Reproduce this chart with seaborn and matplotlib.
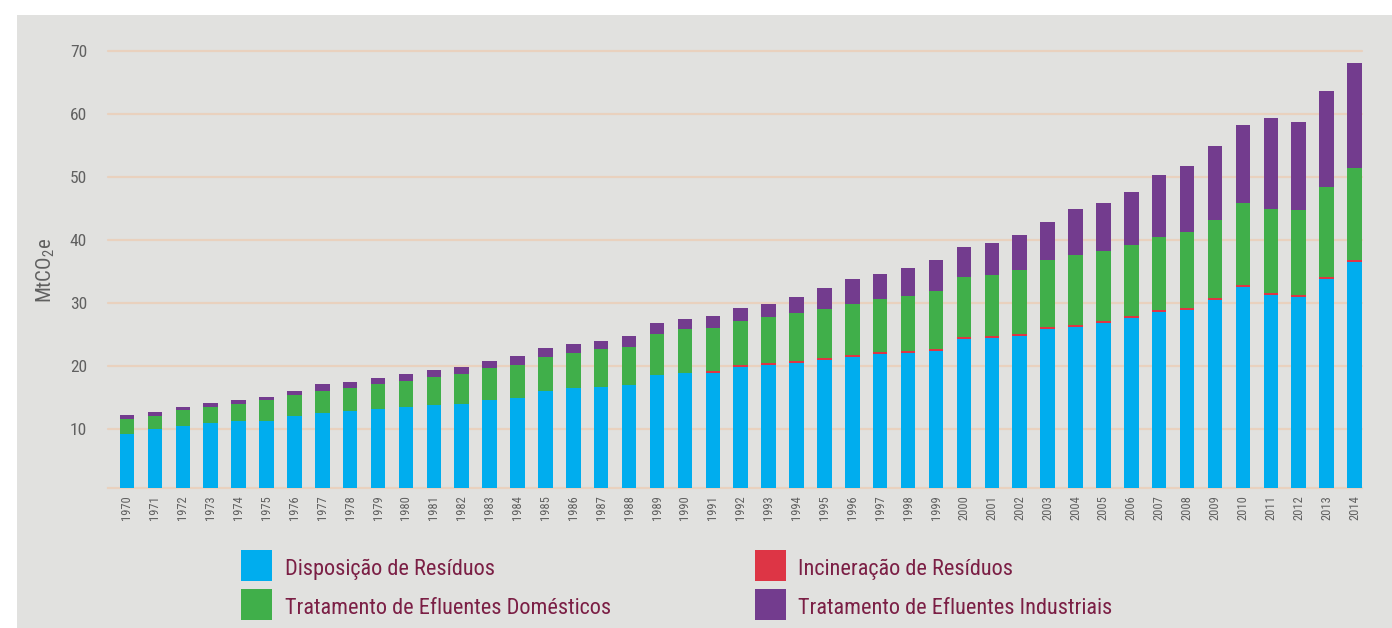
import numpy as np
import pandas as pd
import matplotlib
matplotlib.use("Agg")
import matplotlib.pyplot as plt
from matplotlib import font_manager
from matplotlib.patches import Rectangle
import seaborn as sns

# dados (MtCO2e)
anos = [str(a) for a in range(1970, 2015)]
disposicao = [9.25, 10.0, 10.5, 10.95, 11.25, 11.25, 12.1, 12.5, 12.85, 13.2,
              13.5, 13.8, 13.95, 14.6, 14.95, 16.0, 16.55, 16.65, 16.95, 18.55,
              18.9, 18.9, 19.8, 20.15, 20.45, 20.95, 21.4, 21.9, 22.05, 22.35,
              24.3, 24.45, 24.75, 25.85, 26.2, 26.8, 27.6, 28.55, 28.9, 30.5,
              32.5, 31.25, 30.95, 33.8, 36.5]
incineracao = [0, 0, 0, 0, 0, 0, 0, 0, 0, 0,
               0, 0, 0, 0, 0, 0, 0, 0, 0, 0,
               0, 0.3, 0.35, 0.3, 0.35, 0.3, 0.3, 0.3, 0.3, 0.35,
               0.3, 0.3, 0.3, 0.35, 0.3, 0.3, 0.3, 0.35, 0.35, 0.3,
               0.35, 0.35, 0.3, 0.3, 0.3]
domesticos = [2.35, 2.05, 2.5, 2.55, 2.7, 3.4, 3.3, 3.5, 3.65, 3.9,
              4.1, 4.45, 4.75, 5.1, 5.2, 5.4, 5.5, 6.05, 6.05, 6.55,
              6.95, 6.85, 6.95, 7.3, 7.6, 7.75, 8.1, 8.4, 8.75, 9.2,
              9.5, 9.65, 10.15, 10.6, 11.1, 11.1, 11.3, 11.55, 12.0, 12.35,
              13.0, 13.3, 13.5, 14.3, 14.6]
industriais = [0.6, 0.65, 0.5, 0.6, 0.65, 0.45, 0.6, 1.1, 0.95, 1.0,
               1.1, 1.1, 1.1, 1.1, 1.45, 1.45, 1.45, 1.25, 1.75, 1.7,
               1.6, 1.85, 2.1, 2.05, 2.5, 3.35, 4.0, 4.0, 4.4, 4.9,
               4.8, 5.1, 5.6, 6.0, 7.3, 7.65, 8.4, 9.85, 10.45, 11.75,
               12.35, 14.4, 13.95, 15.2, 16.65]

series = ["Disposição de Resíduos", "Incineração de Resíduos",
          "Tratamento de Efluentes Domésticos", "Tratamento de Efluentes Industriais"]
cores = ["#00ADEE", "#DD3545", "#40AF4A", "#733C8E"]

df = pd.DataFrame({"ano": anos, series[0]: disposicao, series[1]: incineracao,
                   series[2]: domesticos, series[3]: industriais})

# fonte condensada se existir
nomes = {f.name for f in font_manager.fontManager.ttflist}
fonte = "Liberation Sans"
for cand in ["Liberation Sans Narrow", "Roboto Condensed", "Open Sans Condensed"]:
    if cand in nomes:
        fonte = cand
        break

sns.set_style("white")
plt.rcParams["font.family"] = [fonte, "DejaVu Sans"]
plt.rcParams["mathtext.fontset"] = "custom"
plt.rcParams["mathtext.rm"] = fonte
plt.rcParams["mathtext.it"] = fonte

fundo = "#E1E1DF"
grade = "#E9D1BE"
cinza = "#606060"

W, H = 1392, 628
fig = plt.figure(figsize=(W / 100, H / 100), dpi=100, facecolor="white")
fig.add_artist(Rectangle((17 / W, 0), 1 - 17 / W, 1 - 15 / H, transform=fig.transFigure,
                         facecolor=fundo, edgecolor="none", zorder=0))

ax = fig.add_axes([108 / W, (H - 488) / H, (1362 - 108) / W, (488 - 50.7) / H])
ax.set_facecolor(fundo)

base = np.zeros(len(anos))
for s, c in zip(series, cores):
    sns.barplot(data=df, x="ano", y=s, order=anos, color=c, saturation=1, bottom=base,
                width=0.52, linewidth=0, errorbar=None, ax=ax, zorder=3)
    base = base + df[s].values

ax.set_xlim(-0.68, 44.27)
ax.set_ylim(0.64, 70)
ax.set_yticks([10, 20, 30, 40, 50, 60, 70])
ax.yaxis.grid(True, color=grade, linewidth=1.6, zorder=0)
ax.set_axisbelow(True)
for sp in ["top", "right", "left"]:
    ax.spines[sp].set_visible(False)
ax.spines["bottom"].set_color(grade)
ax.spines["bottom"].set_linewidth(1.6)
for t in ax.get_ygridlines():
    t.set_clip_on(False)

ax.tick_params(axis="y", length=0, pad=15, labelsize=12.5, labelcolor=cinza)
ax.tick_params(axis="x", length=0, pad=5, labelsize=9, labelcolor=cinza, labelrotation=90)
ax.set_xlabel("")
ax.set_ylabel("MtCO$_\\mathrm{2}$e", fontsize=15, color=cinza)
ax.yaxis.set_label_coords((57 - 108) / (1362 - 108), (488 - 270) / (488 - 50.7))

# legenda manual
texto_leg = "#7B1F45"
pos = [(241, 285, 575), (755, 798, 575), (241, 285, 614), (755, 798, 614)]
for i, (xp, xt, yb) in enumerate(pos):
    fig.add_artist(Rectangle((xp / W, 1 - (yb + 6) / H), 31 / W, 31 / H,
                             transform=fig.transFigure, facecolor=cores[i],
                             edgecolor="none"))
    fig.text(xt / W, 1 - yb / H, series[i], fontsize=16, color=texto_leg,
             va="baseline", ha="left")

fig.savefig("out.png", dpi=100, facecolor="white")
